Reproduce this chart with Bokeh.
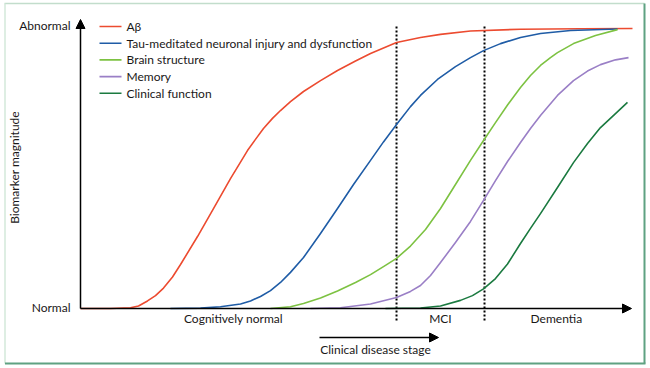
from bokeh.plotting import figure
from bokeh.models import Range1d, Arrow, NormalHead
from bokeh.core.properties import value
from bokeh.embed import file_html
from bokeh.resources import INLINE

# ---------------- data (x: clinical disease stage 0-100, y: biomarker magnitude 0=normal, 1=abnormal)
series_names = ["A\u03b2", "Tau-meditated neuronal injury and dysfunction",
                "Brain structure", "Memory", "Clinical function"]
series_colors = ["#ec4b30", "#1f5ca6", "#7dc242", "#9a7fc6", "#1b7a40"]

ab_x = [0, 5.43, 9.06, 10.51, 12.14, 13.59, 15.04, 16.67, 18.12, 21.20, 24.09, 27.17, 30.25,
        31.70, 33.15, 34.78, 36.23, 38.04, 40.40, 43.48, 46.56, 49.82, 52.54, 57.25, 61.59,
        65.22, 70.65, 79.71, 90.58, 100]
ab_y = [0, 0, 0.0025, 0.009, 0.027, 0.046, 0.073, 0.1125, 0.157, 0.257, 0.357, 0.464, 0.564,
        0.604, 0.643, 0.679, 0.707, 0.739, 0.775, 0.814, 0.850, 0.884, 0.911, 0.950, 0.968,
        0.979, 0.991, 0.9975, 0.999, 1.0]

tau_x = [16.30, 21.74, 25.36, 28.99, 30.80, 32.61, 34.42, 36.23, 38.04, 40.40, 43.48, 46.56,
         49.46, 52.54, 54.89, 57.25, 59.78, 61.59, 64.67, 67.93, 70.65, 73.01, 76.09, 79.71,
         83.33, 88.77, 97.28]
tau_y = [0, 0.0014, 0.006, 0.016, 0.027, 0.043, 0.064, 0.093, 0.129, 0.182, 0.268, 0.357,
         0.443, 0.529, 0.595, 0.657, 0.721, 0.761, 0.818, 0.864, 0.896, 0.921, 0.946, 0.968,
         0.982, 0.993, 0.998]

brain_x = [34.42, 38.04, 40.40, 43.48, 46.56, 49.82, 52.54, 55.25, 57.25, 59.78, 62.50, 65.22,
           67.93, 70.65, 73.01, 75.18, 77.36, 79.71, 81.52, 83.33, 85.14, 86.41, 89.31, 93.30,
           97.28]
brain_y = [0, 0.006, 0.018, 0.0375, 0.0625, 0.093, 0.121, 0.154, 0.179, 0.223, 0.282, 0.357,
           0.443, 0.529, 0.600, 0.664, 0.727, 0.789, 0.832, 0.868, 0.896, 0.914, 0.946, 0.975,
           0.996]

mem_x = [41.67, 47.10, 52.54, 57.25, 59.78, 61.59, 63.41, 65.22, 67.93, 70.65, 73.01, 75.18,
         77.36, 79.71, 81.52, 83.33, 86.41, 89.31, 91.85, 94.20, 96.92, 99.28]
mem_y = [0, 0.0025, 0.016, 0.039, 0.061, 0.082, 0.118, 0.164, 0.236, 0.311, 0.386, 0.457,
         0.525, 0.593, 0.643, 0.689, 0.761, 0.814, 0.848, 0.871, 0.888, 0.896]

clin_x = [55.25, 61.59, 65.22, 68.84, 71.01, 73.01, 75.18, 77.36, 79.71, 81.52, 83.33, 86.41,
          89.31, 91.85, 94.20, 96.92, 99.09]
clin_y = [0, 0.002, 0.009, 0.029, 0.046, 0.070, 0.107, 0.159, 0.232, 0.286, 0.339, 0.432,
          0.521, 0.589, 0.646, 0.696, 0.736]

series_x = [ab_x, tau_x, brain_x, mem_x, clin_x]
series_y = [ab_y, tau_y, brain_y, mem_y, clin_y]

stage_boundaries = [57.25, 73.19]
stage_labels = ["Cognitively normal", "MCI", "Dementia"]
stage_centers = [27.7, 65.2, 86.2]
level_labels = ["Normal", "Abnormal"]
level_values = [0, 1]
y_title = "Biomarker magnitude"
x_title = "Clinical disease stage"

# ---------------- layout helpers (reference pixel -> data units)
def px(xr):
    return (xr - 80) / 5.52

def py(yr):
    return (308 - yr) / 280

W, H = 650, 368
FONT = value("Lato")
TXT = "#1a1818"

p = figure(width=W, height=H, output_backend="svg", toolbar_location=None,
           x_range=Range1d(px(0), px(W)), y_range=Range1d(py(H), py(0)),
           min_border=0)
p.axis.visible = False
p.grid.visible = False
p.outline_line_color = None
p.background_fill_color = "white"
p.border_fill_color = "white"

# frame around the panel
p.segment(x0=[px(4)], y0=[py(3)], x1=[px(644)], y1=[py(3)], line_color="#c2ddcc", line_width=1.5)
p.segment(x0=[px(4.5)], y0=[py(3)], x1=[px(4.5)], y1=[py(363)], line_color="#d3e8da", line_width=1.5)
p.segment(x0=[px(644)], y0=[py(3)], x1=[px(644)], y1=[py(363)], line_color="#5fa282", line_width=2)
p.segment(x0=[px(4.5)], y0=[py(363)], x1=[px(645)], y1=[py(363)], line_color="#5fa282", line_width=2)

# axes with arrows
head = dict(size=9, fill_color="black", line_color="black")
p.add_layout(Arrow(x_start=0, y_start=0, x_end=0, y_end=py(19), line_width=1.5, line_color="black",
                   end=NormalHead(**head)))
p.add_layout(Arrow(x_start=0, y_start=0, x_end=px(631), y_end=0, line_width=1.5, line_color="black",
                   end=NormalHead(**head)))

# stage boundaries (dotted)
for b in stage_boundaries:
    p.line(x=[b, b], y=[py(320), py(25)], line_color="black", line_width=2, line_dash="2 2")

# curves
for xs, ys, c in zip(series_x, series_y, series_colors):
    p.line(x=xs, y=ys, line_color=c, line_width=1.6, line_join="round")

# legend (manual)
row0, drow = 26, 16.7
for i, (name, c) in enumerate(zip(series_names, series_colors)):
    yy = py(row0 + i * drow)
    p.line(x=[px(99), px(121)], y=[yy, yy], line_color=c, line_width=1.6)
p.text(x=[px(126)] * 5, y=[py(row0 + i * drow) for i in range(5)], text=series_names,
       text_font=FONT, text_font_size="12px", text_color=TXT, text_baseline="middle", text_align="left")

# level labels
p.text(x=[px(70)] * 2, y=[py(307), py(25)], text=level_labels, text_font=FONT, text_font_size="12px",
       text_color=TXT, text_baseline="middle", text_align="right")
# y title
p.text(x=[px(14)], y=[py(167)], text=[y_title], angle=1.5708, text_font=FONT, text_font_size="12px",
       text_color=TXT, text_baseline="middle", text_align="center")
# stage labels
p.text(x=stage_centers, y=[py(318)] * 3, text=stage_labels, text_font=FONT, text_font_size="12px",
       text_color=TXT, text_baseline="middle", text_align="center")
# clinical disease stage arrow + label
p.add_layout(Arrow(x_start=px(319), y_start=py(337), x_end=px(438), y_end=py(337), line_width=1.5,
                   line_color="black", end=NormalHead(**head)))
p.text(x=[px(375)], y=[py(349)], text=[x_title], text_font=FONT, text_font_size="12px",
       text_color=TXT, text_baseline="middle", text_align="center")

open("out.html", "w").write(file_html(p, INLINE))
